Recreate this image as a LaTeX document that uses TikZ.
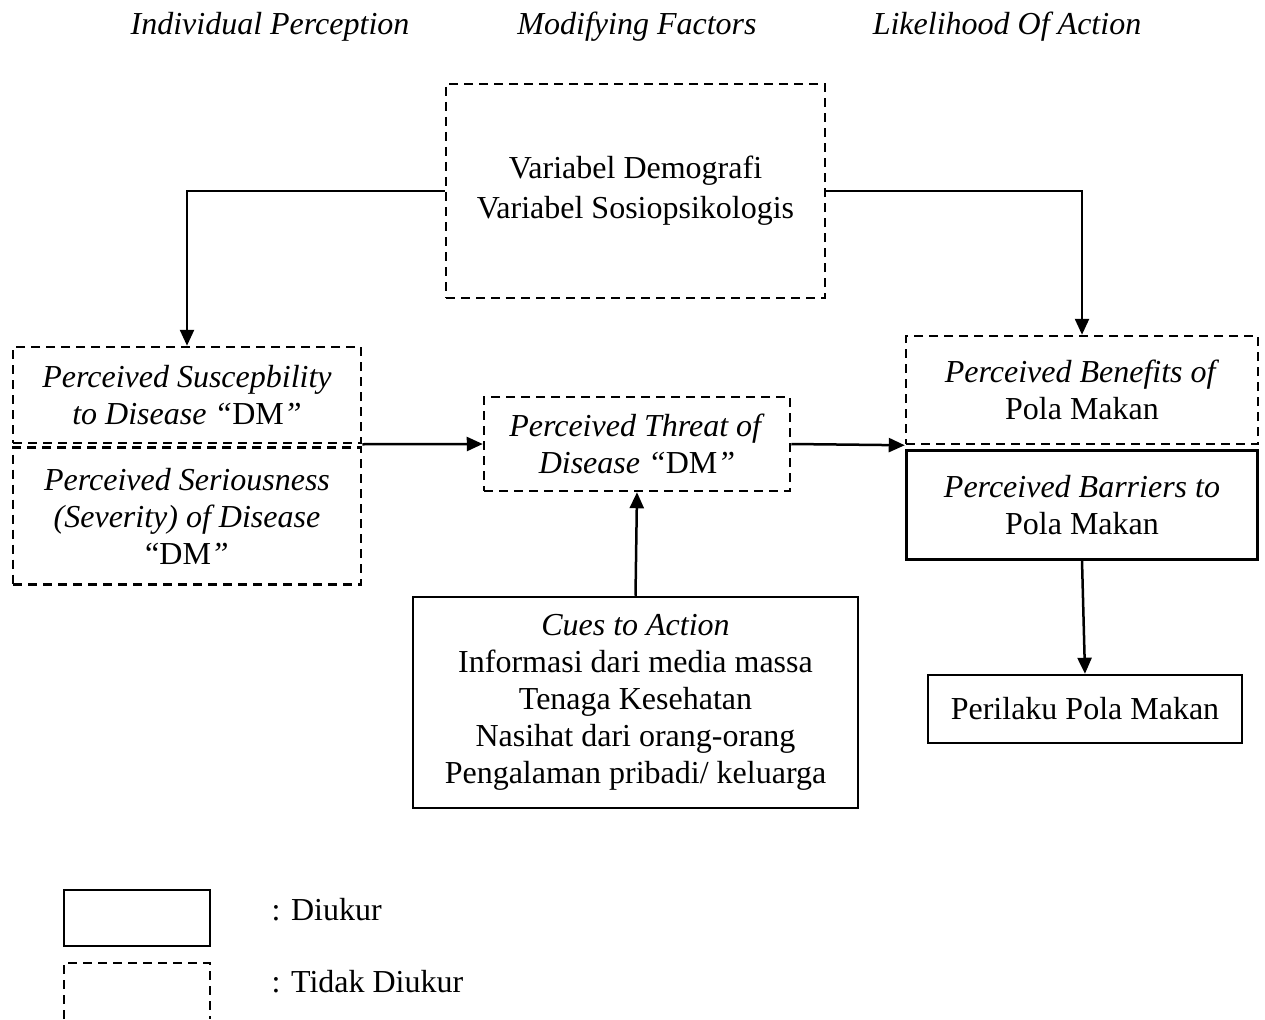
\documentclass[tikz,border=0pt]{standalone}
\usepackage{fontspec}
\setmainfont{Liberation Serif}
\usetikzlibrary{arrows.meta,positioning}
\tikzset{
  solidbox/.style={draw, line width=2.5pt, align=center, inner sep=0pt},
  dashbox/.style={draw, line width=2.5pt, dash pattern=on 9pt off 6pt, align=center, inner sep=0pt},
  arr/.style={line width=2.5pt, -{Triangle[length=16pt,width=14pt]}}
}
\begin{document}
\begin{tikzpicture}[x=1pt, y=-1pt, font=\fontsize{32}{37}\selectfont]
        \useasboundingbox (0,0) rectangle (1265,1019);

        % column headings
        \node (h1) at (270,27) {\textit{Individual Perception}};
        \node (h2) at (637,27) {\textit{Modifying Factors}};
        \node (h3) at (1007,27) {\textit{Likelihood Of Action}};

        % boxes
        \node[dashbox, minimum width=379pt, minimum height=214pt, font=\fontsize{32}{40}\selectfont] (demo) at (635.5,191)
            {Variabel Demografi\\Variabel Sosiopsikologis};
        \node[dashbox, minimum width=348pt, minimum height=96pt] (sus) at (187,395)
            {\textit{Perceived Suscepbility}\\\textit{to Disease “}DM\textit{”}};
        \node[dashbox, minimum width=348pt, minimum height=137pt, below=2pt of sus] (sev)
            {\textit{Perceived Seriousness}\\\textit{(Severity) of Disease}\\“DM\textit{”}};
        \node[dashbox, minimum width=306pt, minimum height=94pt] (threat) at (637,444)
            {\textit{Perceived Threat of}\\\textit{Disease “}DM\textit{”}};
        \node[dashbox, minimum width=352pt, minimum height=108pt] (ben) at (1082,390)
            {\textit{Perceived Benefits of}\\Pola Makan};
        \node[solidbox, minimum width=351pt, minimum height=109pt, below=4pt of ben] (bar)
            {\textit{Perceived Barriers to}\\Pola Makan};
        \node[solidbox, minimum width=314pt, minimum height=68pt] (pola) at (1085,709)
            {Perilaku Pola Makan};
        \node[solidbox, minimum width=445pt, minimum height=211pt] (cues) at (635.5,702.5)
            {\textit{Cues to Action}\\Informasi dari media massa\\Tenaga Kesehatan\\Nasihat dari orang-orang\\Pengalaman pribadi/ keluarga};

        % connectors
        \draw[arr] (demo.west) -| (sus.north);
        \draw[arr] (demo.east) -| (ben.north);
        \draw[arr] (sus.south east) -- (threat.west);
        \draw[arr] (threat.east) -- (ben.south west);
        \draw[arr] (cues.north) -- (threat.south);
        \draw[arr] (bar.south) -- (pola.north);

        % legend
        \node[solidbox, minimum width=146pt, minimum height=56pt] (legsolid) at (137,918) {};
        \draw[line width=2.5pt, dash pattern=on 9pt off 6pt] (64,1019) -- (64,963) -- (210,963) -- (210,1019);
        \node[anchor=west] (legtxt1) at (268,910) {: Diukur};
        \node[anchor=west] (legtxt2) at (268,982) {: Tidak Diukur};
\end{tikzpicture}
\end{document}
